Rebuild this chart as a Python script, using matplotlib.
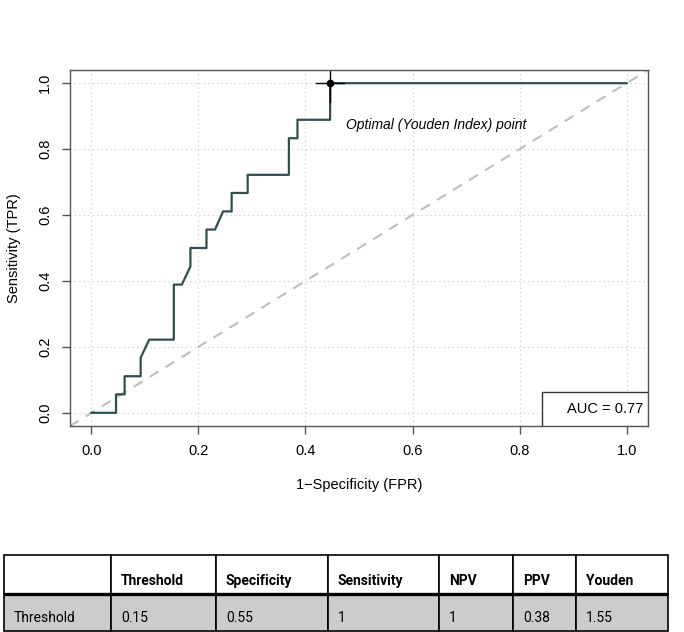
import matplotlib
matplotlib.use('Agg')
import matplotlib.pyplot as plt
from matplotlib.patches import Rectangle

# Curva ROC
fpr = [0.0, 0.046, 0.046, 0.062, 0.062, 0.092, 0.092, 0.108, 0.154, 0.154,
       0.169, 0.185, 0.185, 0.215, 0.215, 0.231, 0.246, 0.262, 0.262, 0.292,
       0.292, 0.369, 0.369, 0.385, 0.385, 0.446, 0.446, 1.0]
tpr = [0.0, 0.0, 0.056, 0.056, 0.111, 0.111, 0.167, 0.222, 0.222, 0.389,
       0.389, 0.444, 0.5, 0.5, 0.556, 0.556, 0.611, 0.611, 0.667, 0.667,
       0.722, 0.722, 0.833, 0.833, 0.889, 0.889, 1.0, 1.0]

opt_fpr = 0.446
opt_tpr = 1.0
auc_label = 'AUC = 0.77'

ticks = [0.0, 0.2, 0.4, 0.6, 0.8, 1.0]

# Tabela
header = ['', 'Threshold', 'Specificity', 'Sensitivity', 'NPV', 'PPV', 'Youden']
row = ['Threshold', '0.15', '0.55', '1', '1', '0.38', '1.55']

plt.rcParams['font.family'] = ['Liberation Sans', 'DejaVu Sans']

W, H = 684, 632
fig = plt.figure(figsize=(W / 100, H / 100), dpi=100)

# eixo principal (pixels: 70..648 x 70..426)
ax = fig.add_axes([70 / W, 1 - 426 / H, 578 / W, 356 / H])
ax.set_xlim(-0.04, 1.04)
ax.set_ylim(-0.04, 1.04)
ax.set_xticks(ticks)
ax.set_yticks(ticks)
ax.set_xticklabels([f'{t:.1f}' for t in ticks])
ax.set_yticklabels([f'{t:.1f}' for t in ticks], rotation=90, va='center')
ax.tick_params(direction='out', length=6, width=1, color='#555555',
               labelsize=10.5, pad=7)
for s in ax.spines.values():
    s.set_color('#555555')
    s.set_linewidth(1.0)
ax.grid(True, linestyle=(0, (1, 3)), color='#c8c8c8', linewidth=0.8)
ax.set_axisbelow(True)

ax.plot([-0.1, 1.1], [-0.1, 1.1], linestyle=(0, (5, 4)), color='#bdbdbd',
        linewidth=1.5)
ax.plot(fpr, tpr, color='#2f4f4f', linewidth=1.6)

# ponto ótimo
ax.plot([opt_fpr - 0.026, opt_fpr + 0.026], [opt_tpr, opt_tpr], color='black', linewidth=1.0)
ax.plot([opt_fpr, opt_fpr], [opt_tpr - 0.057, opt_tpr + 0.057], color='black', linewidth=1.0)
ax.plot([opt_fpr], [opt_tpr], 'o', color='black', markersize=4.5)
ax.text(opt_fpr + 0.03, 0.873, 'Optimal (Youden Index) point', style='italic',
        fontsize=10, va='center', ha='left')

# caixa AUC
ax.add_patch(Rectangle((0.8166, 0.0), 0.1834, 0.0955, transform=ax.transAxes,
                       facecolor='white', edgecolor='#333333', linewidth=1.0,
                       zorder=5))
ax.text(0.992, 0.048, auc_label, transform=ax.transAxes, ha='right',
        va='center', fontsize=10.5, zorder=6)

ax.set_xlabel('1\u2212Specificity (FPR)', fontsize=10.5, labelpad=14)
ax.set_ylabel('Sensitivity (TPR)', fontsize=10.5, labelpad=12)

# tabela desenhada à mão
col_w = [107, 105, 112, 111, 74, 63, 92]
row_h = [39, 37]
tx = fig.add_axes([4 / W, 1 - 631 / H, sum(col_w) / W, sum(row_h) / H])
tx.set_xlim(0, sum(col_w))
tx.set_ylim(sum(row_h), 0)
tx.axis('off')

x = 0
for j, w in enumerate(col_w):
    tx.add_patch(Rectangle((x, 0), w, row_h[0], facecolor='white',
                           edgecolor='black', linewidth=1.2, clip_on=False))
    tx.add_patch(Rectangle((x, row_h[0]), w, row_h[1], facecolor='#cccccc',
                           edgecolor='black', linewidth=1.2, clip_on=False))
    tx.text(x + 10, row_h[0] * 0.66, header[j], fontsize=10, fontweight='bold',
            family=['Roboto', 'DejaVu Sans'], va='center', ha='left')
    tx.text(x + 10, row_h[0] + row_h[1] * 0.66, row[j], fontsize=10,
            family=['Roboto', 'DejaVu Sans'], va='center', ha='left')
    x += w
tx.plot([0, sum(col_w)], [row_h[0], row_h[0]], color='black', linewidth=2.4,
        clip_on=False, solid_capstyle='butt')

fig.savefig('out.png', dpi=100)
